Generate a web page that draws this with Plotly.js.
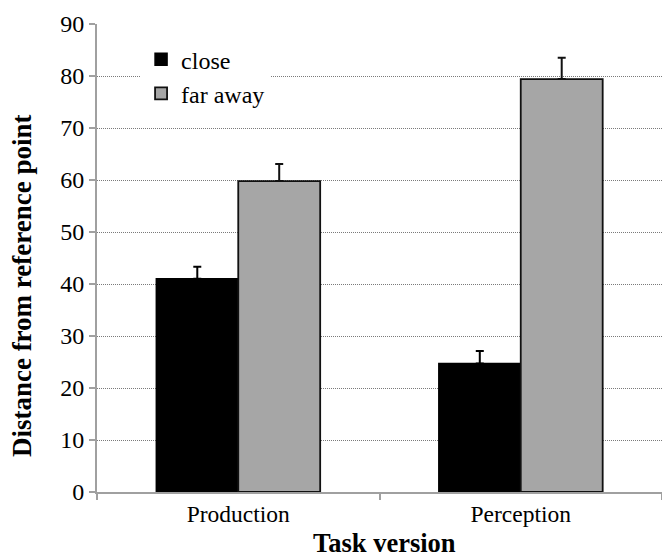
<!DOCTYPE html>
<html>
<head>
<meta charset="utf-8">
<script src="https://cdn.plot.ly/plotly-3.0.1.min.js"></script>
<style>
html,body{margin:0;padding:0;background:#fff;}
#chart{width:662px;height:559px;}
svg text{font-family:"Liberation Serif", serif !important;}
</style>
</head>
<body>
<div id="chart"></div>
<script>
var categories = ["Production", "Perception"];
var closeValues = [41.0, 24.7];
var closeErrors = [2.3, 2.4];
var farValues = [59.8, 79.4];
var farErrors = [3.3, 4.1];
var seriesNames = ["close", "far away"];
var yTicks = [0, 10, 20, 30, 40, 50, 60, 70, 80, 90];
var xTitle = "Task version";
var yTitle = "Distance from reference point";

var serif = "Liberation Serif";

var traces = [
  {
    type: "bar", name: seriesNames[0], x: categories, y: closeValues,
    marker: {color: "#000000", line: {color: "#000000", width: 1.5}},
    error_y: {type: "data", array: closeErrors, arrayminus: [0, 0], symmetric: false,
              color: "#000000", thickness: 2, width: 4}
  },
  {
    type: "bar", name: seriesNames[1], x: categories, y: farValues,
    marker: {color: "#a6a6a6", line: {color: "#111111", width: 1.8}},
    error_y: {type: "data", array: farErrors, arrayminus: [0, 0], symmetric: false,
              color: "#111111", thickness: 2, width: 4}
  }
];

var layout = {
  width: 662, height: 559,
  margin: {l: 97, r: 0, t: 24, b: 67, pad: 0},
  paper_bgcolor: "#ffffff", plot_bgcolor: "#ffffff",
  barmode: "group", bargap: 0.42, bargroupgap: 0,
  font: {family: serif, color: "#000000"},
  showlegend: true,
  legend: {
    x: 0.078, y: 0.972, xanchor: "left", yanchor: "top",
    bgcolor: "#ffffff", borderwidth: 0,
    font: {family: serif, size: 24, color: "#000000"},
    itemwidth: 30, tracegroupgap: 0
  },
  xaxis: {
    type: "category",
    showline: true, linecolor: "#a0a0a0", linewidth: 2,
    ticks: "outside", tickson: "boundaries", ticklen: 6, tickcolor: "#a0a0a0", tickwidth: 2,
    tickfont: {family: serif, size: 23.5, color: "#000000"},
    showgrid: false, zeroline: false
  },
  yaxis: {
    range: [0, 90], tickvals: yTicks, ticktext: yTicks.map(String),
    showline: true, linecolor: "#a0a0a0", linewidth: 2,
    ticks: "outside", ticklen: 6, tickcolor: "#a0a0a0", tickwidth: 2,
    tickfont: {family: serif, size: 24, color: "#000000"},
    showgrid: true, gridcolor: "#7a7a7a", gridwidth: 1, griddash: "1px,1px",
    zeroline: false
  },
  annotations: [
    {text: "<b>" + xTitle + "</b>", xref: "paper", yref: "paper", x: 0.508, y: -0.109,
     xanchor: "center", yanchor: "middle", showarrow: false,
     font: {family: serif, size: 26.5, color: "#000000"}},
    {text: "<b>" + yTitle + "</b>", xref: "paper", yref: "paper", x: -0.1327, y: 0.44,
     xanchor: "center", yanchor: "middle", showarrow: false, textangle: -90,
     font: {family: serif, size: 27, color: "#000000"}}
  ]
};

Plotly.newPlot("chart", traces, layout, {displayModeBar: false, staticPlot: true});
</script>
</body>
</html>
